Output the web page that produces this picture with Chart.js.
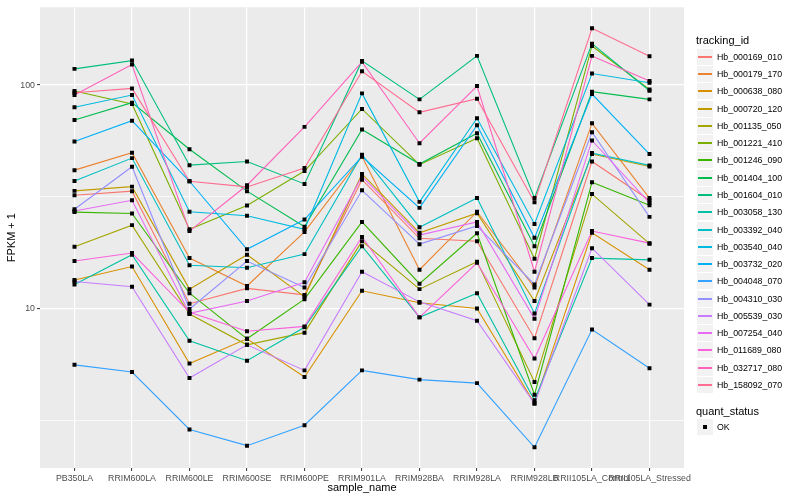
<!DOCTYPE html>
<html>
<head>
<meta charset="utf-8">
<script src="https://cdn.jsdelivr.net/npm/chart.js@4.4.1/dist/chart.umd.min.js"></script>
<style>
  body { margin: 0; background: #fff; font-family: "Liberation Sans", Arial, sans-serif; }
  #wrap { position: relative; width: 800px; height: 500px; }
  #legend { position: absolute; left: 0; top: 0; width: 800px; height: 500px; pointer-events: none; }
  .lg-title { position: absolute; left: 696px; font-size: 11px; line-height: 13px; color: #000; }
  .lg-key { position: absolute; left: 697px; width: 16px; height: 16px; background: #f2f2f2; }
  .lg-line { position: absolute; left: 1px; width: 14px; top: 7px; height: 2px; }
  .lg-dot { position: absolute; left: 6px; top: 6px; width: 4px; height: 4px; background: #000; }
  .lg-text { position: absolute; left: 717px; font-size: 8.8px; line-height: 10px; color: #000; white-space: nowrap; }
</style>
</head>
<body>
<div id="wrap">
  <canvas id="chart" width="800" height="500"></canvas>
  <div id="legend"></div>
</div>
<script>
const samples = ["PB350LA", "RRIM600LA", "RRIM600LE", "RRIM600SE", "RRIM600PE", "RRIM901LA",
  "RRIM928BA", "RRIM928LA", "RRIM928LB", "RRII105LA_Control", "RRII105LA_Stressed"];

const trackingIds = ["Hb_000169_010", "Hb_000179_170", "Hb_000638_080", "Hb_000720_120",
  "Hb_001135_050", "Hb_001221_410", "Hb_001246_090", "Hb_001404_100", "Hb_001604_010",
  "Hb_003058_130", "Hb_003392_040", "Hb_003540_040", "Hb_003732_020", "Hb_004048_070",
  "Hb_004310_030", "Hb_005539_030", "Hb_007254_040", "Hb_011689_080", "Hb_032717_080",
  "Hb_158092_070"];

// FPKM + 1, one value per sample
const hb_000169_010 = [32.1, 33.5, 10.5, 12.3, 11.5, 37.7, 20.6, 20.0, 7.35, 45.5, 30.5];
const hb_000179_170 = [41.6, 49.8, 16.8, 12.6, 22.0, 47.9, 14.9, 27.1, 12.4, 67.4, 31.2];
const hb_000638_080 = [13.4, 15.4, 5.67, 7.31, 4.93, 12.0, 10.6, 10.0, 3.75, 21.8, 14.9];
const hb_000720_120 = [33.6, 35.1, 12.2, 17.4, 11.3, 40.0, 21.8, 26.7, 10.8, 49.1, 43.2];
const hb_001135_050 = [18.9, 23.6, 9.44, 6.87, 7.79, 20.0, 12.2, 16.2, 4.68, 32.5, 19.5];
const hb_001221_410 = [94.0, 82.3, 22.6, 28.9, 41.2, 78.2, 44.0, 57.8, 16.7, 149.7, 95.6];
const hb_001246_090 = [27.0, 26.6, 11.7, 7.31, 11.0, 24.4, 12.9, 21.7, 4.11, 36.7, 29.0];
const hb_001404_100 = [69.8, 83.4, 51.6, 33.5, 23.2, 63.2, 44.3, 60.9, 19.0, 93.4, 86.3];
const hb_001604_010 = [118.2, 128.7, 43.8, 45.5, 36.1, 128.3, 86.3, 135.1, 31.2, 153.3, 94.3];
const hb_003058_130 = [12.8, 17.4, 7.16, 5.83, 8.23, 19.0, 9.12, 11.7, 3.88, 16.8, 16.5];
const hb_003392_040 = [37.2, 47.1, 15.6, 15.2, 17.5, 48.8, 23.1, 31.2, 9.50, 49.6, 43.7];
const hb_003540_040 = [79.5, 90.2, 27.1, 26.0, 22.6, 91.8, 30.0, 71.0, 23.9, 112.6, 102.4];
const hb_003732_020 = [55.9, 69.3, 37.1, 18.4, 25.0, 47.9, 28.2, 66.1, 20.7, 91.2, 49.1];
const hb_004048_070 = [5.59, 5.19, 2.87, 2.43, 3.00, 5.28, 4.80, 4.63, 2.39, 8.04, 5.40];
const hb_004310_030 = [27.8, 43.1, 9.94, 16.3, 12.4, 33.8, 19.4, 23.4, 12.8, 61.5, 25.7];
const hb_005539_030 = [13.2, 12.5, 4.88, 6.87, 5.28, 14.6, 10.7, 8.81, 3.75, 18.6, 10.4];
const hb_007254_040 = [27.3, 30.5, 9.50, 10.8, 13.1, 39.0, 21.3, 24.4, 9.00, 56.5, 29.7];
const hb_011689_080 = [16.3, 17.7, 9.60, 7.90, 8.31, 20.9, 9.12, 16.0, 5.97, 22.2, 19.6];
const hb_032717_080 = [90.2, 123.6, 22.2, 35.6, 65.0, 127.0, 54.9, 99.0, 14.6, 135.1, 104.2];
const hb_158092_070 = [92.4, 96.6, 37.1, 35.0, 42.5, 115.4, 75.5, 86.9, 29.9, 179.5, 134.7];

const yTickValues = [3.162, 10, 31.62, 100];
const yTickLabels = ["", "10", "", "100"];

const seriesValues = [hb_000169_010, hb_000179_170, hb_000638_080, hb_000720_120, hb_001135_050,
  hb_001221_410, hb_001246_090, hb_001404_100, hb_001604_010, hb_003058_130, hb_003392_040,
  hb_003540_040, hb_003732_020, hb_004048_070, hb_004310_030, hb_005539_030, hb_007254_040,
  hb_011689_080, hb_032717_080, hb_158092_070];

// ggplot default hue palette for 20 groups
const colors = ["#F8766D", "#EA8331", "#D89000", "#C09B00", "#A3A500", "#7CAE00", "#39B600",
  "#00BB4E", "#00BF7D", "#00C1A3", "#00BFC4", "#00BAE0", "#00B0F6", "#35A2FF", "#9590FF",
  "#C77CFF", "#E76BF3", "#FA62DB", "#FF62BC", "#FF6C91"];

const tickFont = { family: "Liberation Sans", size: 8.8 };
const titleFont = { family: "Liberation Sans", size: 11 };

const lineSets = seriesValues.map((vals, i) => ({
    label: trackingIds[i],
    data: vals.map((v, j) => ({ x: j, y: v })),
    borderColor: colors[i],
    borderWidth: 1.1,
    pointRadius: 0,
    tension: 0,
    fill: false,
    order: 100 - i,
}));

const pointSets = seriesValues.map((vals, i) => ({
    label: trackingIds[i] + " OK",
    data: vals.map((v, j) => ({ x: j, y: v })),
    showLine: false,
    pointStyle: "rect",
    pointRadius: 2.8,
    pointBackgroundColor: "#000",
    pointBorderWidth: 0,
    order: 0,
}));

const panelBg = {
    id: "panelBg",
    beforeDraw(chart) {
        const { ctx, chartArea: a } = chart;
        ctx.save();
        ctx.fillStyle = "#ebebeb";
        ctx.fillRect(a.left, a.top, a.right - a.left, a.bottom - a.top);
        ctx.restore();
    },
};

new Chart(document.getElementById("chart"), {
    type: "line",
    data: { datasets: lineSets.concat(pointSets) },
    plugins: [panelBg],
    options: {
        responsive: false,
        animation: false,
        devicePixelRatio: 1,
        layout: { padding: { top: 5, right: 116, left: 0, bottom: 0 } },
        plugins: {
            legend: { display: false },
            tooltip: { enabled: false },
        },
        scales: {
            x: {
                type: "linear",
                min: -0.6,
                max: samples.length - 0.4,
                afterFit: (s) => { s.height = 32; },
                afterBuildTicks: (s) => { s.ticks = samples.map((_, i) => ({ value: i })); },
                border: { display: false },
                grid: {
                    color: "#fff",
                    lineWidth: 1.2,
                    tickColor: "#333",
                    tickLength: 3,
                    tickWidth: 1,
                },
                ticks: {
                    autoSkip: false,
                    maxRotation: 0,
                    padding: 2,
                    color: "#4d4d4d",
                    font: tickFont,
                    callback: (v, i) => samples[i],
                },
                title: {
                    display: true,
                    text: "sample_name",
                    color: "#000",
                    font: titleFont,
                    padding: { top: 0, bottom: 5 },
                },
            },
            y: {
                type: "logarithmic",
                min: 1.93,
                max: 223,
                afterFit: (s) => { s.width = 40; },
                afterBuildTicks: (s) => { s.ticks = yTickValues.map((v) => ({ value: v })); },
                border: { display: false },
                grid: {
                    color: "#fff",
                    lineWidth: (c) => (yTickLabels[c.index] ? 1.2 : 0.7),
                    tickColor: (c) => (yTickLabels[c.index] ? "#333" : "rgba(0,0,0,0)"),
                    tickLength: 3,
                    tickWidth: 1,
                },
                ticks: {
                    padding: 2,
                    color: "#4d4d4d",
                    font: tickFont,
                    callback: (v, i) => yTickLabels[i],
                },
                title: {
                    display: true,
                    text: "FPKM + 1",
                    color: "#000",
                    font: titleFont,
                    padding: { top: 5, bottom: 0 },
                },
            },
        },
    },
});

// legend on the right, ggplot style
const legend = document.getElementById("legend");
let html = '<div class="lg-title" style="top:34px">tracking_id</div>';
trackingIds.forEach((id, i) => {
    const top = Math.round(56.7 + 17.28 * i - 8);
    html += '<div class="lg-key" style="top:' + top + 'px"><div class="lg-line" style="background-color:' +
        colors[i] + '"></div></div>';
    html += '<div class="lg-text" style="top:' + (top + 3) + 'px">' + id + '</div>';
});
html += '<div class="lg-title" style="top:405px">quant_status</div>';
html += '<div class="lg-key" style="top:419px"><div class="lg-dot"></div></div>';
html += '<div class="lg-text" style="top:422px">OK</div>';
legend.innerHTML = html;
</script>
</body>
</html>
